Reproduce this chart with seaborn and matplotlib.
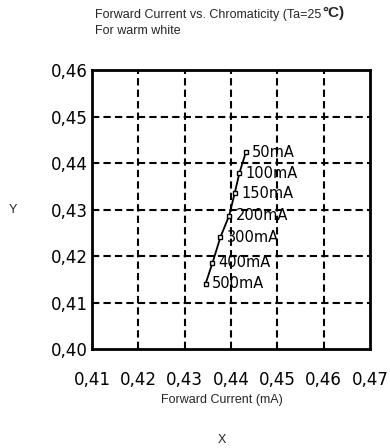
import matplotlib
matplotlib.use("Agg")
import matplotlib.pyplot as plt
import seaborn as sns
import pandas as pd

# Chromaticity coordinates of a warm white LED at several drive currents
currents = ["50mA", "100mA", "150mA", "200mA", "300mA", "400mA", "500mA"]
cie_x = [0.4432, 0.4418, 0.4408, 0.4396, 0.4377, 0.4360, 0.4345]
cie_y = [0.4423, 0.4378, 0.4335, 0.4287, 0.4240, 0.4185, 0.4140]

x_ticks = [0.41, 0.42, 0.43, 0.44, 0.45, 0.46, 0.47]
y_ticks = [0.40, 0.41, 0.42, 0.43, 0.44, 0.45, 0.46]
x_tick_labels = ["0,41", "0,42", "0,43", "0,44", "0,45", "0,46", "0,47"]
y_tick_labels = ["0,40", "0,41", "0,42", "0,43", "0,44", "0,45", "0,46"]

df = pd.DataFrame({"x": cie_x, "y": cie_y, "current": currents})

sns.set_style("white")
plt.rcParams["font.family"] = ["DejaVu Sans"]

W, H = 390, 448
fig = plt.figure(figsize=(W / 100, H / 100), dpi=100)
ax = fig.add_axes([92 / W, 1 - 349 / H, (370 - 92) / W, (349 - 70) / H])

sns.lineplot(data=df, x="x", y="y", sort=False, color="black", lw=1.3,
             marker="s", markersize=3.2, markerfacecolor="white",
             markeredgecolor="black", markeredgewidth=1.0, ax=ax, zorder=3)

for cx, cy, lab in zip(cie_x, cie_y, currents):
    ax.annotate(lab, (cx, cy), xytext=(4.5, 0), textcoords="offset points",
                ha="left", va="center", fontsize=10.5, color="black", zorder=4)

ax.set_xlim(x_ticks[0], x_ticks[-1])
ax.set_ylim(y_ticks[0], y_ticks[-1])
ax.set_xticks(x_ticks)
ax.set_xticklabels(x_tick_labels)
ax.set_yticks(y_ticks)
ax.set_yticklabels(y_tick_labels)
ax.tick_params(axis="both", length=0, labelsize=12, colors="black")
ax.tick_params(axis="x", pad=16)
ax.tick_params(axis="y", pad=3)

# dashed interior grid
for xv in x_ticks[1:-1]:
    ax.axvline(xv, color="black", lw=1.5, ls=(0, (3.5, 2)), zorder=1)
for yv in y_ticks[1:-1]:
    ax.axhline(yv, color="black", lw=1.5, ls=(0, (3.5, 2)), zorder=1)

for sp in ax.spines.values():
    sp.set_visible(True)
    sp.set_color("black")
    sp.set_linewidth(2.0)

ax.set_xlabel("")
ax.set_ylabel("")

tfont = ["Liberation Sans", "DejaVu Sans"]
t1 = fig.text(95 / W, 1 - 15 / H, "Forward Current vs. Chromaticity (Ta=25",
              ha="left", va="center", fontsize=9, family=tfont)
ax.annotate("\u00b0C)", xy=(1, 0), xycoords=t1, xytext=(1, 1),
            textcoords="offset points", ha="left", va="bottom",
            fontsize=11, fontweight="bold", family=tfont, annotation_clip=False)
fig.text(95 / W, 1 - 31 / H, "For warm white", ha="left", va="center",
         fontsize=9, family=tfont)

fig.text(222 / W, 1 - 400 / H, "Forward Current (mA)", ha="center",
         va="center", fontsize=9, family=tfont)
fig.text(222 / W, 1 - 440 / H, "X", ha="center", va="center",
         fontsize=9, family=tfont)
fig.text(13 / W, 1 - 210 / H, "Y", ha="center", va="center",
         fontsize=9, family=tfont)

fig.savefig("out.png", dpi=100)
